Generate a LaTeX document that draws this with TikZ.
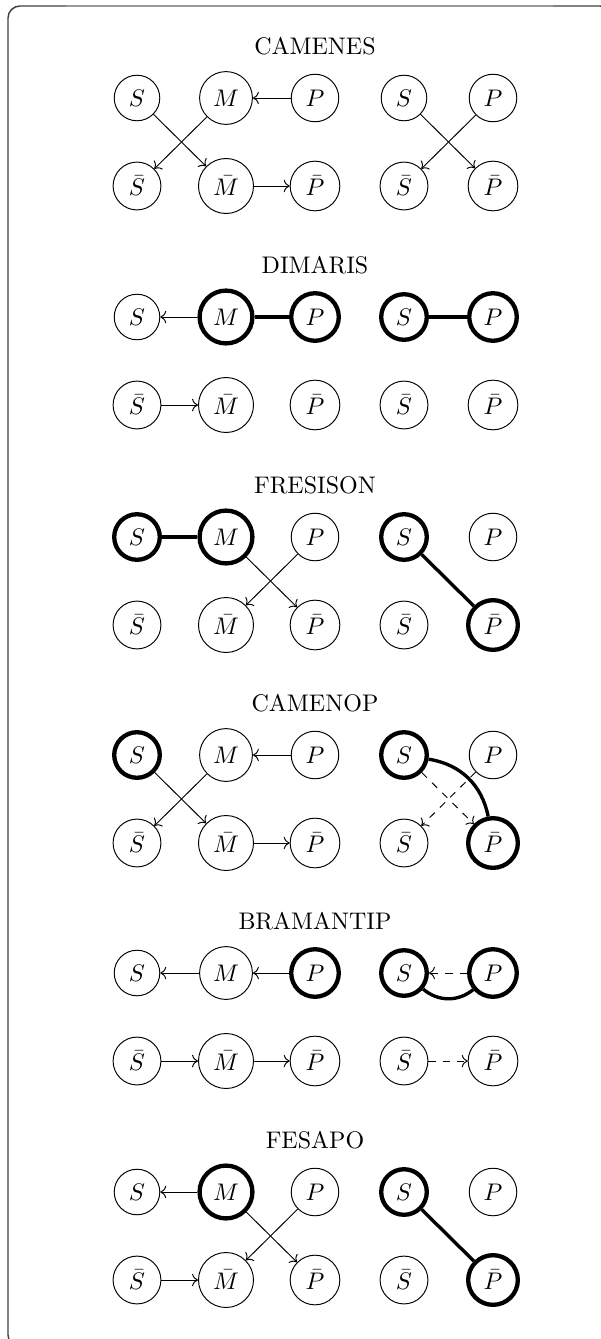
\documentclass[tikz,border=0pt]{standalone}
\usepackage{amsmath}
\usepackage{amssymb}
\usepackage{xcolor}
\usepackage{tikz}
\usetikzlibrary{arrows.meta}

\tikzset{
  vert/.style={circle, draw, inner sep=0.3333em},
  heavy/.style={line width=1.8pt},
  bond/.style={line width=1.4pt},
  ttl/.style={font=\normalsize, inner sep=0pt},
}

% one panel: title, left square S M P, right square S P
\newcommand{\syllgrid}[2]{%
  \node[ttl] (t#1) at (315,-52) {#2};
  \node[vert, hlS/.try] (S#1) at (137,0) {$S$};
  \node[vert, hlM/.try] (M#1) at (226,0) {$M$};
  \node[vert, hlP/.try] (P#1) at (315,0) {$P$};
  \node[vert, hlSb/.try] (Sb#1) at (137,88) {$\bar{S}$};
  \node[vert, hlMb/.try] (Mb#1) at (226,88) {$\bar{M}$};
  \node[vert, hlPb/.try] (Pb#1) at (315,88) {$\bar{P}$};
  \node[vert, hlrS/.try] (rS#1) at (404,0) {$S$};
  \node[vert, hlrP/.try] (rP#1) at (493,0) {$P$};
  \node[vert, hlrSb/.try] (rSb#1) at (404,88) {$\bar{S}$};
  \node[vert, hlrPb/.try] (rPb#1) at (493,88) {$\bar{P}$};
}

\begin{document}
\begin{tikzpicture}[x=0.4167pt, y=-0.4167pt]
\useasboundingbox (0,0) rectangle (601,1339);
\draw[black!75, line width=0.6pt, rounded corners=5pt] (8,6) rectangle (612,1347);
\draw[white, line width=1.2pt] (66,6) -- (553,6);
\draw[black!40, line width=0.5pt] (66,6) -- (553,6);

% CAMENES
\begin{scope}[shift={(0,98)}]
\syllgrid{1}{CAMENES}
\draw[->] (P1) -- (M1);
\draw[->] (M1) -- (Sb1);
\draw[->] (S1) -- (Mb1);
\draw[->] (Mb1) -- (Pb1);
\draw[->] (rS1) -- (rPb1);
\draw[->] (rP1) -- (rSb1);
\end{scope}

% DIMARIS
\begin{scope}[shift={(0,317)}, hlM/.style=heavy, hlP/.style=heavy, hlrS/.style=heavy, hlrP/.style=heavy]
\syllgrid{2}{DIMARIS}
\draw[->] (M2) -- (S2);
\draw[bond] (M2) -- (P2);
\draw[->] (Sb2) -- (Mb2);
\draw[bond] (rS2) -- (rP2);
\end{scope}

% FRESISON
\begin{scope}[shift={(0,537)}, hlS/.style=heavy, hlM/.style=heavy, hlrS/.style=heavy, hlrPb/.style=heavy]
\syllgrid{3}{FRESISON}
\draw[bond] (S3) -- (M3);
\draw[->] (P3) -- (Mb3);
\draw[->] (M3) -- (Pb3);
\draw[bond] (rS3) -- (rPb3);
\end{scope}

% CAMENOP
\begin{scope}[shift={(0,755)}, hlS/.style=heavy, hlrS/.style=heavy, hlrPb/.style=heavy]
\syllgrid{4}{CAMENOP}
\draw[->] (P4) -- (M4);
\draw[->] (M4) -- (Sb4);
\draw[->] (S4) -- (Mb4);
\draw[->] (Mb4) -- (Pb4);
\draw[bond] (rS4) to[bend left=35] (rPb4);
\draw[->, dashed] (rS4) -- (rPb4);
\draw[->, dashed] (rP4) -- (rSb4);
\end{scope}

% BRAMANTIP
\begin{scope}[shift={(0,973)}, hlP/.style=heavy, hlrS/.style=heavy, hlrP/.style=heavy]
\syllgrid{5}{BRAMANTIP}
\draw[->] (M5) -- (S5);
\draw[->] (P5) -- (M5);
\draw[->] (Sb5) -- (Mb5);
\draw[->] (Mb5) -- (Pb5);
\draw[->, dashed] (rP5) -- (rS5);
\draw[bond] (rS5) to[bend right=40] (rP5);
\draw[->, dashed] (rSb5) -- (rPb5);
\end{scope}

% FESAPO
\begin{scope}[shift={(0,1192)}, hlM/.style=heavy, hlrS/.style=heavy, hlrPb/.style=heavy]
\syllgrid{6}{FESAPO}
\draw[->] (M6) -- (S6);
\draw[->] (M6) -- (Pb6);
\draw[->] (P6) -- (Mb6);
\draw[->] (Sb6) -- (Mb6);
\draw[bond] (rS6) -- (rPb6);
\end{scope}
\end{tikzpicture}
\end{document}
